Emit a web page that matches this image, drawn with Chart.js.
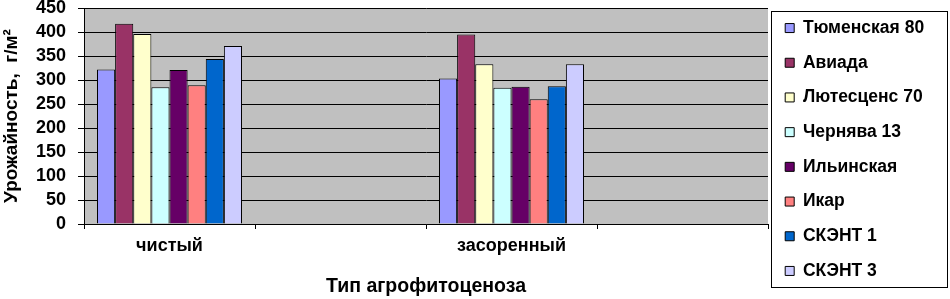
<!DOCTYPE html>
<html>
<head>
<meta charset="utf-8">
<script src="https://cdn.jsdelivr.net/npm/chart.js@4/dist/chart.umd.min.js"></script>
<style>
  html, body { margin: 0; padding: 0; background: #fff; }
  #wrap { width: 950px; height: 299px; }
</style>
</head>
<body>
<div id="wrap"><canvas id="bars"></canvas></div>
<script>
// категории по оси X (пустые — как в исходной диаграмме Excel)
const categories = ["чистый", "", "засоренный", ""];
const varieties = ["Тюменская 80", "Авиада", "Лютесценс 70", "Чернява 13",
                   "Ильинская", "Икар", "СКЭНТ 1", "СКЭНТ 3"];
const colors = ["#9999FF", "#993366", "#FFFFCC", "#CCFFFF",
                "#660066", "#FF8080", "#0066CC", "#CCCCFF"];
// урожайность, г/м2
const cleanValues = [322, 417, 396, 285, 321, 289, 344, 371];
const weedyValues = [303, 395, 333, 284, 286, 260, 287, 333];
const yMin = 0, yMax = 450, yStep = 50;

drawBars();

function drawBars() {
  Chart.defaults.font.family = "'Liberation Sans', Arial, sans-serif";
  Chart.defaults.font.weight = "bold";
  Chart.defaults.color = "#000";

  const datasets = varieties.map((name, i) => ({
    label: name,
    data: [cleanValues[i], null, weedyValues[i], null],
    backgroundColor: colors[i],
    borderColor: "#000",
    borderWidth: 1,
    categoryPercentage: 0.848,
    barPercentage: 1
  }));

  // серый фон области построения и рамка легенды
  const excelLook = {
    id: "excelLook",
    beforeLayout(chart) {
      const legend = chart.legend;
      if (legend && !legend._wide) {
        const fit = legend.fit;
        legend.fit = function () { fit.call(this); this.width = 182; };
        legend._wide = true;
      }
    },
    beforeDraw(chart) {
      const { ctx, chartArea: a } = chart;
      ctx.save();
      ctx.fillStyle = "#C0C0C0";
      ctx.fillRect(a.left, a.top, a.right - a.left, a.bottom - a.top);
      ctx.restore();
    },
    afterDraw(chart) {
      const { ctx, legend } = chart;
      ctx.save();
      ctx.strokeStyle = "#000";
      ctx.lineWidth = 1;
      const x = Math.round(legend.left + 3) + 0.5;
      ctx.strokeRect(x, 11.5, 947.5 - x, 276);
      ctx.restore();
    }
  };

  new Chart(document.getElementById("bars"), {
    type: "bar",
    data: { labels: categories, datasets: datasets },
    plugins: [excelLook],
    options: {
      responsive: true,
      maintainAspectRatio: false,
      animation: false,
      layout: { padding: 0 },
      plugins: {
        tooltip: { enabled: false },
        legend: {
          position: "right",
          labels: {
            boxWidth: 9,
            boxHeight: 9,
            padding: 17.2,
            color: "#000",
            font: { size: 17.5, weight: "bold" }
          }
        }
      },
      scales: {
        x: {
          offset: true,
          grid: { offset: true, drawOnChartArea: false, drawTicks: true, tickLength: 5, color: "#000" },
          border: { color: "#000" },
          ticks: { padding: 6, font: { size: 18, weight: "bold" } },
          title: {
            display: true,
            text: "Тип агрофитоценоза",
            font: { size: 19.5, weight: "bold" },
            padding: { top: 0, bottom: 1 }
          },
          afterFit(scale) { scale.height = 75; }
        },
        y: {
          min: yMin,
          max: yMax,
          grid: { color: "#000", tickLength: 6 },
          border: { color: "#000" },
          ticks: { stepSize: yStep, autoSkip: false, padding: 12, font: { size: 18, weight: "bold", lineHeight: 1 } },
          title: {
            display: true,
            text: "Урожайность,  г/м²",
            font: { size: 19, weight: "bold" },
            padding: 0
          },
          afterFit(scale) {
            scale.width = 84;
            scale.paddingTop = 8;
            scale.paddingBottom = 8;
          }
        }
      }
    }
  });
}
</script>
</body>
</html>
